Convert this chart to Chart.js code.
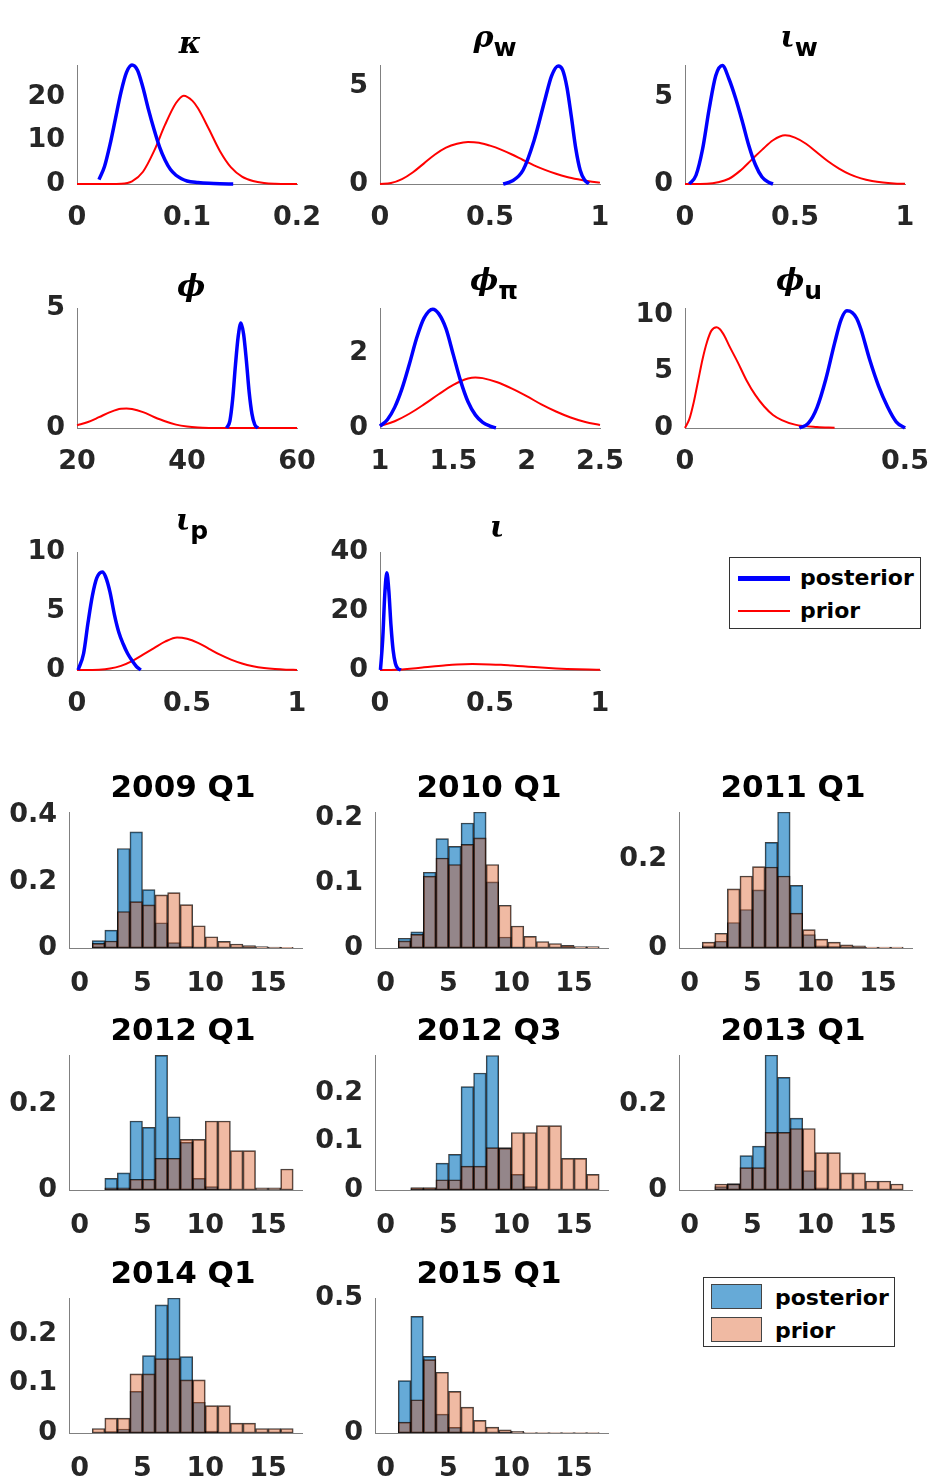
<!DOCTYPE html>
<html>
<head>
<meta charset="utf-8">
<script src="https://cdn.jsdelivr.net/npm/chart.js@4.4.0/dist/chart.umd.min.js"></script>
<style>
  body { margin: 0; background: #fff; }
  #fig { position: relative; width: 932px; height: 1480px; overflow: hidden; background: #fff; }
  .ttl { position: absolute; width: 240px; text-align: center; white-space: nowrap; color: #000; }
  .greek { font: italic bold 30px "DejaVu Serif"; line-height: 30px; }
  .greek sub { font: bold 25px "DejaVu Sans"; font-style: normal; vertical-align: -9px; line-height: 0; }
  .htitle { font: bold 31px "DejaVu Sans"; line-height: 31px; }
  .lg { position: absolute; background: #fff; border: 1px solid #333; box-sizing: border-box; }
  .lg div { position: absolute; }
  .lt { font: bold 22px "DejaVu Sans"; line-height: 22px; color: #000; white-space: nowrap; }
</style>
</head>
<body>
<div id="fig"></div>
<script>
// Posterior vs prior densities (top) and posterior/prior histograms by quarter (bottom).

// ---- density panels: values ----
const kappaPostX = [0.02, 0.025, 0.03, 0.035, 0.04, 0.045, 0.05, 0.055, 0.06, 0.065, 0.07, 0.075, 0.08, 0.085, 0.09, 0.095, 0.1, 0.11, 0.12, 0.13, 0.142];
const kappaPostY = [1.0, 4, 9, 15, 21, 25.5, 27.2, 26, 22, 17, 12.5, 8.5, 5.5, 3.3, 2.0, 1.2, 0.7, 0.35, 0.15, 0.05, 0];
const kappaPriorX = [0, 0.03, 0.04, 0.05, 0.06, 0.07, 0.08, 0.09, 0.097, 0.105, 0.11, 0.12, 0.13, 0.14, 0.15, 0.16, 0.17, 0.18, 0.2];
const kappaPriorY = [0, 0, 0.05, 0.6, 2.8, 7.5, 13.5, 18.5, 20.2, 19, 17.3, 12.5, 7.5, 3.8, 1.7, 0.7, 0.25, 0.08, 0];

const rhoPostX = [0.56, 0.6, 0.65, 0.7, 0.75, 0.78, 0.81, 0.83, 0.85, 0.87, 0.89, 0.91, 0.93, 0.95];
const rhoPostY = [0, 0.15, 0.7, 2.2, 4.3, 5.5, 6.0, 5.8, 4.9, 3.4, 1.8, 0.7, 0.2, 0.02];
const rhoPriorX = [0, 0.05, 0.1, 0.15, 0.2, 0.25, 0.3, 0.35, 0.4, 0.45, 0.5, 0.55, 0.6, 0.65, 0.7, 0.75, 0.8, 0.85, 0.9, 0.95, 1];
const rhoPriorY = [0, 0.05, 0.25, 0.6, 1.05, 1.5, 1.85, 2.05, 2.14, 2.1, 1.95, 1.75, 1.5, 1.22, 0.95, 0.72, 0.52, 0.36, 0.24, 0.14, 0.07];

const iwPostX = [0.02, 0.05, 0.08, 0.11, 0.14, 0.17, 0.2, 0.23, 0.26, 0.29, 0.32, 0.35, 0.38, 0.4];
const iwPostY = [0, 0.5, 2.0, 4.3, 6.2, 6.77, 6.0, 4.9, 3.6, 2.2, 1.1, 0.4, 0.1, 0];
const iwPriorX = [0, 0.1, 0.15, 0.2, 0.25, 0.3, 0.35, 0.4, 0.455, 0.5, 0.55, 0.6, 0.65, 0.7, 0.75, 0.8, 0.85, 0.9, 0.95, 1];
const iwPriorY = [0, 0.02, 0.1, 0.3, 0.75, 1.35, 1.95, 2.5, 2.78, 2.65, 2.3, 1.8, 1.3, 0.88, 0.55, 0.32, 0.17, 0.08, 0.03, 0.01];

const phiPostX = [47.2, 47.8, 48.3, 48.8, 49.3, 49.8, 50.3, 50.8, 51.3, 51.8, 52.3, 52.9];
const phiPostY = [0, 0.3, 1.2, 2.6, 3.8, 4.37, 3.9, 2.8, 1.5, 0.6, 0.15, 0];
const phiPriorX = [20, 22, 24, 26, 28, 29, 30, 32, 34, 36, 38, 40, 42, 44, 48, 60];
const phiPriorY = [0.11, 0.25, 0.45, 0.66, 0.8, 0.81, 0.79, 0.66, 0.46, 0.28, 0.14, 0.06, 0.02, 0.005, 0, 0];

const phipiPostX = [1.0, 1.05, 1.1, 1.15, 1.2, 1.25, 1.3, 1.36, 1.4, 1.45, 1.5, 1.55, 1.6, 1.65, 1.7, 1.75, 1.79];
const phipiPostY = [0.05, 0.22, 0.55, 1.05, 1.7, 2.4, 2.93, 3.17, 3.05, 2.65, 1.95, 1.25, 0.7, 0.35, 0.15, 0.05, 0];
const phipiPriorX = [1.0, 1.1, 1.2, 1.3, 1.4, 1.5, 1.6, 1.65, 1.7, 1.8, 1.9, 2.0, 2.1, 2.2, 2.3, 2.4, 2.5];
const phipiPriorY = [0.05, 0.18, 0.38, 0.63, 0.9, 1.15, 1.32, 1.35, 1.33, 1.22, 1.05, 0.85, 0.63, 0.44, 0.28, 0.16, 0.08];

const phiuPostX = [0.26, 0.28, 0.3, 0.32, 0.34, 0.355, 0.368, 0.38, 0.39, 0.4, 0.42, 0.44, 0.46, 0.48, 0.5];
const phiuPostY = [0, 0.4, 1.8, 4.3, 7.5, 9.6, 10.35, 10.2, 9.7, 8.7, 6.0, 3.7, 1.9, 0.55, 0];
const phiuPriorX = [0, 0.01, 0.02, 0.03, 0.04, 0.05, 0.06, 0.072, 0.08, 0.09, 0.1, 0.12, 0.14, 0.16, 0.18, 0.2, 0.22, 0.25, 0.3, 0.34];
const phiuPriorY = [0, 0.8, 2.3, 4.2, 6.1, 7.6, 8.6, 8.9, 8.7, 8.1, 7.3, 5.8, 4.2, 2.9, 1.9, 1.15, 0.7, 0.3, 0.08, 0.02];

const ipPostX = [0.005, 0.03, 0.05, 0.07, 0.09, 0.115, 0.13, 0.15, 0.17, 0.19, 0.21, 0.23, 0.25, 0.27, 0.29];
const ipPostY = [0, 1.4, 4.0, 6.3, 7.8, 8.3, 7.9, 6.6, 4.7, 3.2, 2.2, 1.4, 0.8, 0.3, 0];
const ipPriorX = [0, 0.1, 0.15, 0.2, 0.25, 0.3, 0.35, 0.4, 0.455, 0.5, 0.55, 0.6, 0.65, 0.7, 0.75, 0.8, 0.85, 0.9, 0.95, 1];
const ipPriorY = [0, 0.03, 0.12, 0.35, 0.75, 1.3, 1.85, 2.4, 2.76, 2.65, 2.3, 1.8, 1.3, 0.88, 0.55, 0.32, 0.17, 0.08, 0.03, 0.01];

const iotaPostX = [0.002, 0.012, 0.022, 0.031, 0.04, 0.05, 0.06, 0.07, 0.08, 0.095];
const iotaPostY = [0, 10, 26, 33, 27, 15, 6.5, 2.2, 0.6, 0];
const iotaPriorX = [0, 0.05, 0.1, 0.15, 0.2, 0.25, 0.3, 0.35, 0.42, 0.5, 0.55, 0.6, 0.65, 0.7, 0.75, 0.8, 0.85, 0.9, 0.95, 1];
const iotaPriorY = [0, 0.03, 0.2, 0.5, 0.9, 1.3, 1.65, 1.9, 2.0, 1.9, 1.75, 1.5, 1.25, 1.0, 0.75, 0.55, 0.38, 0.25, 0.16, 0.1];

// ---- histogram panels: bin centres (width 1) and bar heights ----
const binCentres16 = [1.5, 2.5, 3.5, 4.5, 5.5, 6.5, 7.5, 8.5, 9.5, 10.5, 11.5, 12.5, 13.5, 14.5, 15.5, 16.5];
const binCentres15 = [2.5, 3.5, 4.5, 5.5, 6.5, 7.5, 8.5, 9.5, 10.5, 11.5, 12.5, 13.5, 14.5, 15.5, 16.5];
const histTicksX = [0, 5, 10, 15];

const post2009Q1 = [0.022, 0.054, 0.30, 0.35, 0.176, 0.076, 0.016, 0.004, 0.001, 0, 0, 0, 0, 0, 0, 0];
const prior2009Q1 = [0.014, 0.021, 0.11, 0.14, 0.13, 0.16, 0.167, 0.131, 0.067, 0.034, 0.02, 0.012, 0.007, 0.004, 0.003, 0.002];
const post2010Q1 = [0.015, 0.025, 0.117, 0.169, 0.157, 0.193, 0.21, 0.102, 0.017, 0.001, 0, 0, 0, 0, 0, 0];
const prior2010Q1 = [0.011, 0.021, 0.111, 0.139, 0.129, 0.16, 0.17, 0.129, 0.066, 0.034, 0.018, 0.01, 0.007, 0.004, 0.002, 0.002];
const post2011Q1 = [0.005, 0.015, 0.057, 0.086, 0.13, 0.236, 0.304, 0.14, 0.03, 0.005, 0.003, 0, 0, 0, 0, 0];
const prior2011Q1 = [0.013, 0.033, 0.132, 0.161, 0.182, 0.181, 0.161, 0.078, 0.041, 0.02, 0.013, 0.007, 0.005, 0.002, 0.002, 0.002];
const post2012Q1 = [0.027, 0.04, 0.161, 0.146, 0.314, 0.171, 0.111, 0.027, 0.008, 0.002, 0, 0, 0, 0, 0];
const prior2012Q1 = [0.005, 0.005, 0.025, 0.025, 0.074, 0.074, 0.118, 0.118, 0.161, 0.161, 0.092, 0.092, 0.005, 0.005, 0.049];
const post2012Q3 = [0.003, 0.003, 0.055, 0.073, 0.212, 0.24, 0.276, 0.087, 0.032, 0.007, 0.001, 0, 0, 0, 0];
const prior2012Q3 = [0.005, 0.005, 0.021, 0.021, 0.049, 0.049, 0.087, 0.086, 0.118, 0.118, 0.132, 0.132, 0.065, 0.065, 0.032];
const post2013Q1 = [0.008, 0.015, 0.08, 0.102, 0.314, 0.262, 0.167, 0.045, 0.005, 0.001, 0, 0, 0, 0, 0];
const prior2013Q1 = [0.014, 0.014, 0.052, 0.052, 0.134, 0.134, 0.143, 0.143, 0.087, 0.087, 0.04, 0.04, 0.021, 0.021, 0.014];
const post2014Q1 = [0, 0.003, 0.008, 0.084, 0.156, 0.258, 0.272, 0.154, 0.062, 0.004, 0.001, 0, 0, 0, 0, 0];
const prior2014Q1 = [0.009, 0.03, 0.03, 0.119, 0.119, 0.15, 0.15, 0.107, 0.107, 0.055, 0.055, 0.02, 0.02, 0.009, 0.009, 0.009];
const post2015Q1 = [0.194, 0.432, 0.284, 0.07, 0.021, 0.004, 0.002, 0, 0.003, 0, 0, 0, 0, 0, 0, 0];
const prior2015Q1 = [0.04, 0.123, 0.272, 0.225, 0.154, 0.096, 0.047, 0.022, 0.012, 0.006, 0.002, 0.002, 0.002, 0.002, 0.002, 0.002];

// ---- layout ----
const fig = document.getElementById("fig");
const TICK_FONT = { family: "DejaVu Sans", weight: "bold", size: 27 };
const TICK_COLOR = "#262626";
const YW = 80, XH = 60, PT = 20, PR = 40;

function place(rect) {
  const c = document.createElement("canvas");
  const w = rect.w + YW + PR;
  const h = rect.h + PT + XH;
  c.width = w;
  c.height = h;
  c.style.cssText = `position:absolute;left:${rect.l - YW}px;top:${rect.t - PT}px;width:${w}px;height:${h}px`;
  fig.appendChild(c);
  return c;
}

function fixedTicks(values) {
  return (scale) => {
    scale.ticks = values.map((v) => ({ value: v }));
  };
}

// fixed axis sizes, and no extra label padding, so the plot box lands exactly on rect
function axes(xMin, xMax, xTicks, yMax, yTicks, xPad) {
  const common = {
    type: "linear",
    grid: { display: false, drawTicks: false },
    border: { display: true, color: "#808080", width: 1 },
  };
  return {
    x: {
      ...common, min: xMin, max: xMax, offset: false,
      ticks: { font: TICK_FONT, color: TICK_COLOR, padding: xPad, maxRotation: 0, autoSkip: false, callback: (v) => String(v) },
      afterBuildTicks: fixedTicks(xTicks),
      afterFit: (s) => { s.height = XH; s.paddingLeft = 0; s.paddingRight = 0; },
    },
    y: {
      ...common, min: 0, max: yMax,
      ticks: { font: TICK_FONT, color: TICK_COLOR, padding: 12, autoSkip: false, callback: (v) => String(v) },
      afterBuildTicks: fixedTicks(yTicks),
      afterFit: (s) => { s.width = YW; s.paddingTop = 0; s.paddingBottom = 0; },
    },
  };
}

const baseOptions = {
  responsive: false,
  animation: false,
  events: [],
  layout: { padding: { top: PT, right: PR, left: 0, bottom: 0 } },
  plugins: { legend: { display: false }, tooltip: { enabled: false }, title: { display: false } },
};

function pairs(xs, ys) {
  return xs.map((x, i) => ({ x, y: ys[i] }));
}

function density(rect, xMin, xMax, xTicks, yMax, yTicks, postX, postY, priorX, priorY) {
  const line = { pointRadius: 0, fill: false, cubicInterpolationMode: "monotone", clip: 4 };
  new Chart(place(rect), {
    type: "line",
    data: {
      datasets: [
        { ...line, label: "posterior", data: pairs(postX, postY), borderColor: "#0000ff", borderWidth: 3.5 },
        { ...line, label: "prior", data: pairs(priorX, priorY), borderColor: "#ff0000", borderWidth: 2 },
      ],
    },
    options: { ...baseOptions, scales: axes(xMin, xMax, xTicks, yMax, yTicks, 18) },
  });
}

function histogram(rect, centres, yMax, yTicks, post, prior) {
  const bar = { barPercentage: 1, categoryPercentage: 1, grouped: false, borderWidth: 1, borderColor: "rgba(0,0,0,0.75)", borderSkipped: false };
  new Chart(place(rect), {
    type: "bar",
    data: {
      datasets: [
        { ...bar, label: "prior", data: pairs(centres, prior), backgroundColor: "rgba(217,83,25,0.4)", order: 0 },
        { ...bar, label: "posterior", data: pairs(centres, post), backgroundColor: "rgba(0,114,189,0.6)", order: 1 },
      ],
    },
    options: { ...baseOptions, scales: axes(-0.85, 17.7, histTicksX, yMax, yTicks, 20) },
  });
}

function title(html, cls, cx, top) {
  const d = document.createElement("div");
  d.className = "ttl " + cls;
  d.style.left = cx - 120 + "px";
  d.style.top = top + "px";
  d.innerHTML = html;
  fig.appendChild(d);
}

// density grid
const dCols = [77, 380, 685];
const dRows = [{ t: 65, h: 119 }, { t: 308, h: 120 }, { t: 552, h: 118 }];
const dRect = (r, c) => ({ l: dCols[c], t: dRows[r].t, w: 220, h: dRows[r].h });

density(dRect(0, 0), 0, 0.2, [0, 0.1, 0.2], 27.2, [0, 10, 20], kappaPostX, kappaPostY, kappaPriorX, kappaPriorY);
density(dRect(0, 1), 0, 1, [0, 0.5, 1], 6.05, [0, 5], rhoPostX, rhoPostY, rhoPriorX, rhoPriorY);
density(dRect(0, 2), 0, 1, [0, 0.5, 1], 6.8, [0, 5], iwPostX, iwPostY, iwPriorX, iwPriorY);
density(dRect(1, 0), 20, 60, [20, 40, 60], 5, [0, 5], phiPostX, phiPostY, phiPriorX, phiPriorY);
density(dRect(1, 1), 1, 2.5, [1, 1.5, 2, 2.5], 3.2, [0, 2], phipiPostX, phipiPostY, phipiPriorX, phipiPriorY);
density(dRect(1, 2), 0, 0.5, [0, 0.5], 10.6, [0, 5, 10], phiuPostX, phiuPostY, phiuPriorX, phiuPriorY);
density(dRect(2, 0), 0, 1, [0, 0.5, 1], 10, [0, 5, 10], ipPostX, ipPostY, ipPriorX, ipPriorY);
density(dRect(2, 1), 0, 1, [0, 0.5, 1], 40, [0, 20, 40], iotaPostX, iotaPostY, iotaPriorX, iotaPriorY);

title("κ", "greek", 190, 28);
title("ρ<sub>w</sub>", "greek", 495, 22);
title("ι<sub>w</sub>", "greek", 799, 22);
title("ϕ", "greek", 191, 271);
title("ϕ<sub>π</sub>", "greek", 494, 265);
title("ϕ<sub>u</sub>", "greek", 799, 265);
title("ι<sub>p</sub>", "greek", 192, 505);
title("ι", "greek", 497, 512);

// histogram grid
const hCols = [69, 375, 679];
const hRows = [{ t: 812, h: 136 }, { t: 1055, h: 135 }, { t: 1298, h: 135 }];
const hRect = (r, c) => ({ l: hCols[c], t: hRows[r].t, w: 233, h: hRows[r].h });

histogram(hRect(0, 0), binCentres16, 0.41, [0, 0.2, 0.4], post2009Q1, prior2009Q1);
histogram(hRect(0, 1), binCentres16, 0.21, [0, 0.1, 0.2], post2010Q1, prior2010Q1);
histogram(hRect(0, 2), binCentres16, 0.304, [0, 0.2], post2011Q1, prior2011Q1);
histogram(hRect(1, 0), binCentres15, 0.315, [0, 0.2], post2012Q1, prior2012Q1);
histogram(hRect(1, 1), binCentres15, 0.277, [0, 0.1, 0.2], post2012Q3, prior2012Q3);
histogram(hRect(1, 2), binCentres15, 0.314, [0, 0.2], post2013Q1, prior2013Q1);
histogram(hRect(2, 0), binCentres16, 0.272, [0, 0.1, 0.2], post2014Q1, prior2014Q1);
histogram(hRect(2, 1), binCentres16, 0.5, [0, 0.5], post2015Q1, prior2015Q1);

title("2009 Q1", "htitle", 183, 771);
title("2010 Q1", "htitle", 489, 771);
title("2011 Q1", "htitle", 793, 771);
title("2012 Q1", "htitle", 183, 1014);
title("2012 Q3", "htitle", 489, 1014);
title("2013 Q1", "htitle", 793, 1014);
title("2014 Q1", "htitle", 183, 1257);
title("2015 Q1", "htitle", 489, 1257);

// legends
fig.insertAdjacentHTML("beforeend", `
  <div class="lg" style="left:729px;top:557px;width:192px;height:72px">
    <div style="left:8px;top:18px;width:52px;height:5px;background:#0000ff"></div>
    <div class="lt" style="left:70px;top:9px">posterior</div>
    <div style="left:8px;top:52px;width:52px;height:2px;background:#ff0000"></div>
    <div class="lt" style="left:70px;top:42px">prior</div>
  </div>
  <div class="lg" style="left:703px;top:1277px;width:192px;height:70px">
    <div style="left:7px;top:6px;width:51px;height:25px;background:#66aad7;border:1px solid #444;box-sizing:border-box"></div>
    <div class="lt" style="left:71px;top:9px">posterior</div>
    <div style="left:7px;top:39px;width:51px;height:25px;background:#f0baa3;border:1px solid #444;box-sizing:border-box"></div>
    <div class="lt" style="left:71px;top:42px">prior</div>
  </div>
`);
</script>
</body>
</html>
